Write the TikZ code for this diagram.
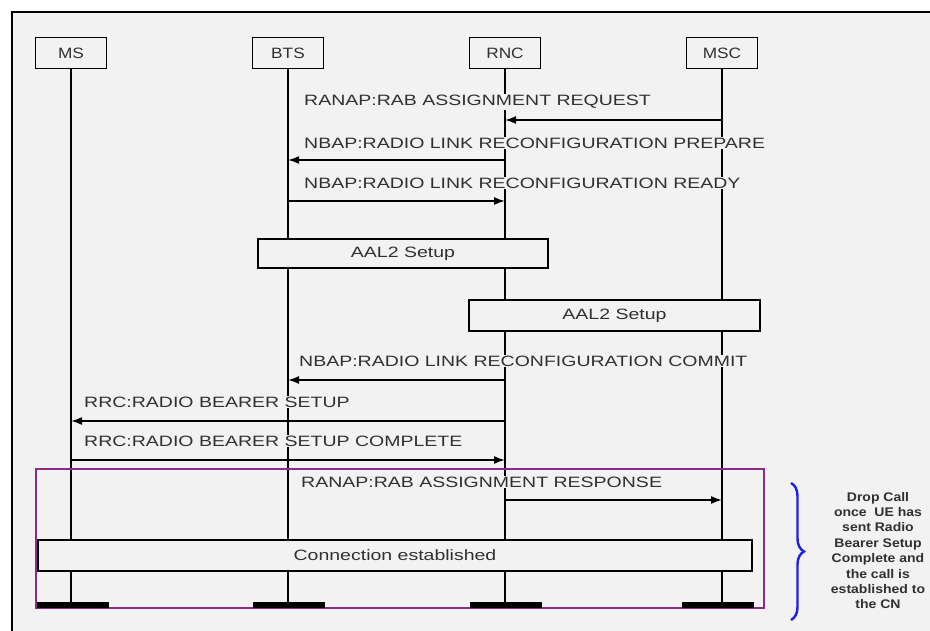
\documentclass[tikz,border=0pt]{standalone}
\usepackage{fontspec}
\setmainfont{Liberation Sans}
\usetikzlibrary{arrows.meta,decorations.pathreplacing}
\definecolor{bg}{HTML}{F2F2F2}
\definecolor{purp}{HTML}{8C2A8C}
\definecolor{bracecol}{HTML}{1E1EE6}
\definecolor{labeltext}{HTML}{303030}
\definecolor{notetext}{HTML}{303030}
\newcommand\mywide[1]{\scalebox{1.30}[1]{#1}}
\begin{document}
\begin{tikzpicture}[x=1pt,y=-1pt,
  entity/.style={draw=black,line width=1.8pt,fill=bg,minimum width=71pt,minimum height=31pt,inner sep=0pt,text=labeltext,font=\fontsize{15}{15}\selectfont},
  life/.style={line width=1.7pt},
  msg/.style={line width=1.7pt,-{Latex[length=11pt,width=8pt]}},
  lbl/.style={anchor=west,fill=bg,inner sep=1pt,text=labeltext,font=\fontsize{15}{15}\selectfont},
  setupbox/.style={draw=black,line width=1.8pt,fill=bg,inner sep=0pt,text=labeltext,font=\fontsize{15}{15}\selectfont},
  endbar/.style={fill=black,inner sep=0pt,minimum width=72pt,minimum height=6pt},
  zone/.style={draw=purp,line width=2.2pt,inner sep=0pt},
  note/.style={text=notetext,inner sep=0pt,font=\fontsize{12.5}{15.4}\selectfont\bfseries}
]
% canvas and frame
\fill[white] (0,0) rectangle (930,631);
\fill[bg] (12,12) rectangle (930,631);
\useasboundingbox (0,0) rectangle (930,631);
\draw[line width=2.2pt] (12,631) -- (12,12) -- (931,12);

% entities
\node[entity] (ms)  at (71,53)  {\scalebox{1.15}[1]{MS}};
\node[entity] (bts) at (288,53) {\scalebox{1.15}[1]{BTS}};
\node[entity] (rnc) at (505,53) {\scalebox{1.15}[1]{RNC}};
\node[entity] (msc) at (722,53) {\scalebox{1.15}[1]{MSC}};

% lifeline ends
\coordinate (msend)  at (71,604);
\coordinate (btsend) at (288,604);
\coordinate (rncend) at (505,604);
\coordinate (mscend) at (722,604);
\draw[life] (ms.south)  -- (msend);
\draw[life] (bts.south) -- (btsend);
\draw[life] (rnc.south) -- (rncend);
\draw[life] (msc.south) -- (mscend);

% message levels
\coordinate (y1) at (0,120);
\coordinate (y2) at (0,160);
\coordinate (y3) at (0,201);
\coordinate (y4) at (0,380);
\coordinate (y5) at (0,421);
\coordinate (y6) at (0,460);
\coordinate (y7) at (0,500);

% labels
\node[lbl] (l1) at (303,102) {\mywide{RANAP:RAB ASSIGNMENT REQUEST}};
\node[lbl] (l2) at (303,143) {\mywide{NBAP:RADIO LINK RECONFIGURATION PREPARE}};
\node[lbl] (l3) at (303,183) {\mywide{NBAP:RADIO LINK RECONFIGURATION READY}};
\node[lbl] (l4) at (298,361) {\mywide{NBAP:RADIO LINK RECONFIGURATION COMMIT}};
\node[lbl] (l5) at (83,402)  {\mywide{RRC:RADIO BEARER SETUP}};
\node[lbl] (l6) at (83,441)  {\mywide{RRC:RADIO BEARER SETUP COMPLETE}};
\node[lbl] (l7) at (300,482) {\mywide{RANAP:RAB ASSIGNMENT RESPONSE}};

% messages
\draw[msg] (msc |- y1) -- (rnc |- y1);
\draw[msg] (rnc |- y2) -- (bts |- y2);
\draw[msg] (bts |- y3) -- (rnc |- y3);
\draw[msg] (rnc |- y4) -- (bts |- y4);
\draw[msg] (rnc |- y5) -- (ms |- y5);
\draw[msg] (ms |- y6) -- (rnc |- y6);
\draw[msg] (rnc |- y7) -- (msc |- y7);

% setup boxes
\node[setupbox,minimum width=290pt,minimum height=29pt] (aal1) at (403,253.5) {\mywide{AAL2 Setup}};
\node[setupbox,minimum width=291pt,minimum height=31pt] (aal2) at (614.5,315.5) {\mywide{AAL2 Setup}};
\node[setupbox,minimum width=714pt,minimum height=31pt] (conn) at (395,555.5) {\mywide{Connection established}};

% purple zone
\node[zone,minimum width=728pt,minimum height=139pt] (zonebox) at (400,538.5) {};

% end bars
\node[endbar] (msbar)  at (72.5,604.5) {};
\node[endbar] (btsbar) at (289,604.5) {};
\node[endbar] (rncbar) at (506,604.5) {};
\node[endbar] (mscbar) at (718,604.5) {};

% brace and note
\coordinate (bracetop) at (791,483);
\coordinate (bracebot) at (791,620);
\draw[bracecol,line width=2.4pt,decorate,decoration={brace,amplitude=13pt}] (bracetop) -- (bracebot);
\node[note] (drop) at (878,552) {\scalebox{1.12}[1]{\begin{tabular}{@{}c@{}}Drop Call\\once\ \ UE has\\sent Radio\\Bearer Setup\\Complete and\\the call is\\established to\\the CN\end{tabular}}};
\end{tikzpicture}
\end{document}
